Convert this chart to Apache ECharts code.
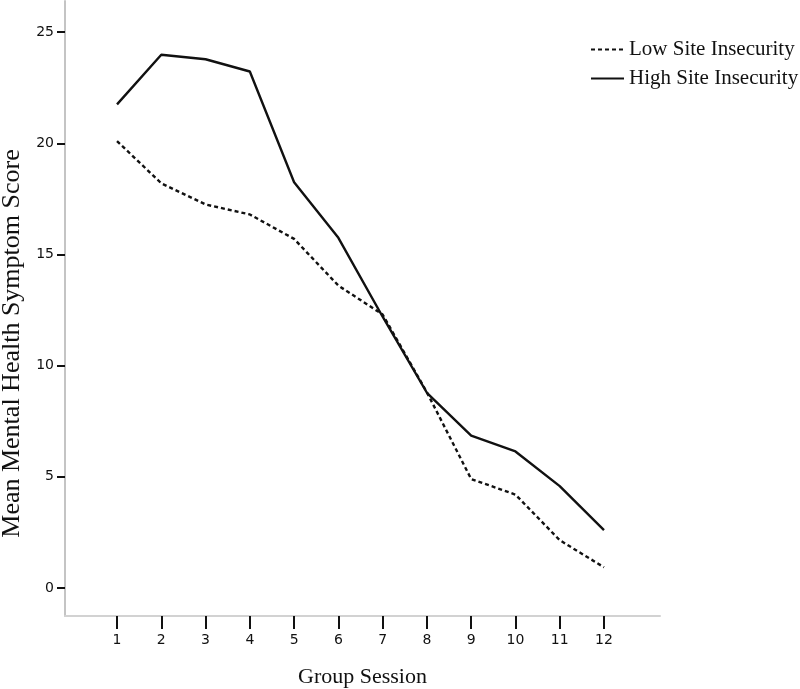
<!DOCTYPE html>
<html>
<head>
<meta charset="utf-8">
<script src="https://cdn.jsdelivr.net/npm/echarts@6/dist/echarts.min.js"></script>
<style>
  html, body { margin: 0; padding: 0; background: #ffffff; }
  #chart { width: 800px; height: 689px; }
</style>
</head>
<body>
<div id="chart"></div>
<script>
// sessions on the x axis
const sessions = [1, 2, 3, 4, 5, 6, 7, 8, 9, 10, 11, 12]
// mean scores
const lowSite = [20.1, 18.2, 17.25, 16.8, 15.7, 13.6, 12.3, 8.8, 4.9, 4.2, 2.15, 0.93]
const highSite = [21.75, 23.98, 23.78, 23.23, 18.25, 15.75, 12.2, 8.78, 6.85, 6.14, 4.58, 2.6]
const yTicks = [0, 5, 10, 15, 20, 25]

const serif = '"Liberation Serif", "DejaVu Serif", serif'
const tickFont = '"DejaVu Sans", sans-serif'

var myChart = echarts.init(document.getElementById('chart'))
var option = {
  animation: false,
  backgroundColor: '#ffffff',
  grid: {
    left: 65,
    right: 140,
    top: 1,
    bottom: 73,
    containLabel: false,
    outerBoundsMode: 'none'
  },
  legend: {
    orient: 'vertical',
    left: 585,
    top: 34,
    itemWidth: 33,
    itemHeight: 12,
    itemGap: 8,
    itemStyle: { opacity: 0 },
    textStyle: { fontFamily: serif, fontSize: 21, color: '#111' },
    data: ['Low Site Insecurity', 'High Site Insecurity']
  },
  xAxis: {
    type: 'value',
    min: -0.175,
    max: 13.265,
    name: 'Group Session',
    nameLocation: 'middle',
    nameGap: 50,
    nameTextStyle: { fontFamily: serif, fontSize: 22, color: '#111' },
    splitLine: { show: false },
    axisLine: { show: true, onZero: false, lineStyle: { color: '#d2d2d2', width: 2 } },
    axisTick: { show: true, customValues: sessions, length: 13, lineStyle: { color: '#111', width: 2 } },
    axisLabel: { customValues: sessions, fontFamily: tickFont, fontSize: 14, color: '#111', margin: 17 }
  },
  yAxis: {
    type: 'value',
    min: -1.26,
    max: 26.4,
    name: 'Mean Mental Health Symptom Score',
    nameLocation: 'middle',
    nameGap: 39,
    nameTextStyle: { fontFamily: serif, fontSize: 26, color: '#111', padding: [0, 70, 0, 0] },
    splitLine: { show: false },
    axisLine: { show: true, onZero: false, lineStyle: { color: '#c4c4c4', width: 2 } },
    axisTick: { show: true, customValues: yTicks, length: 8, lineStyle: { color: '#111', width: 2 } },
    axisLabel: { customValues: yTicks, fontFamily: tickFont, fontSize: 14, color: '#111', margin: 11 }
  },
  series: [
    {
      name: 'Low Site Insecurity',
      type: 'line',
      symbol: 'none',
      data: sessions.map((s, i) => [s, lowSite[i]]),
      lineStyle: { color: '#111', width: 2.4, type: [4, 3] },
      itemStyle: { color: '#111' }
    },
    {
      name: 'High Site Insecurity',
      type: 'line',
      symbol: 'none',
      data: sessions.map((s, i) => [s, highSite[i]]),
      lineStyle: { color: '#111', width: 2.4 },
      itemStyle: { color: '#111' }
    }
  ]
}
myChart.setOption(option)
</script>
</body>
</html>
